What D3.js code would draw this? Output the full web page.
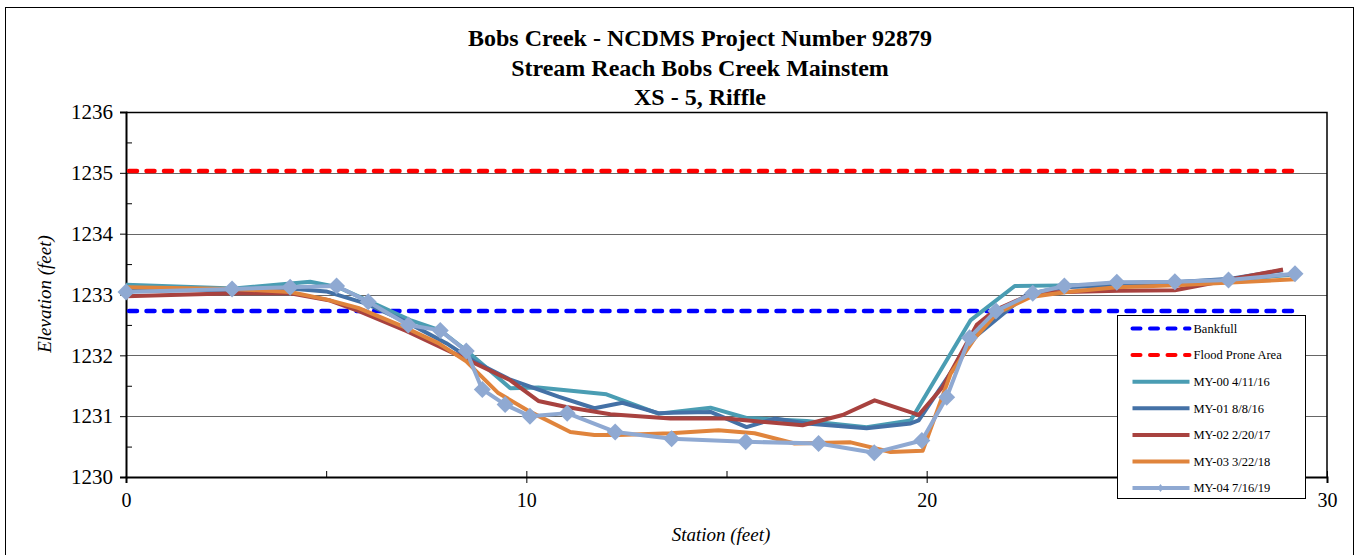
<!DOCTYPE html>
<html>
<head>
<meta charset="utf-8">
<script src="https://cdn.jsdelivr.net/npm/d3@7"></script>
<style>
  body { margin: 0; background: #fff; }
  svg text { font-family: "Liberation Serif", "Times New Roman", Times, "DejaVu Serif", serif; }
</style>
</head>
<body>
<div id="chart"></div>
<script>
// chart values
var titleLines = ["Bobs Creek - NCDMS Project Number 92879", "Stream Reach Bobs Creek Mainstem", "XS - 5, Riffle"];
var xTicks = [0, 10, 20, 30];
var yTicks = [1230, 1231, 1232, 1233, 1234, 1235, 1236];
var bankfull = 1232.73;
var floodProne = 1235.03;
var refLineEnd = 29.25;

var my00 = [[0,1233.16],[2.7,1233.10],[4.6,1233.21],[5.3,1233.12],[5.9,1232.94],[7.1,1232.58],[7.85,1232.41],[8.5,1232.08],[9.0,1231.8],[9.6,1231.46],[10.3,1231.47],[12.0,1231.36],[13.3,1231.04],[14.6,1231.14],[15.5,1230.97],[17.0,1230.92],[18.5,1230.82],[19.6,1230.93],[21.1,1232.58],[22.2,1233.14],[23.4,1233.15],[24.8,1233.17],[26.2,1233.2],[27.6,1233.24],[29.2,1233.33]];
var my01 = [[0,1233.06],[2.7,1233.08],[4.1,1233.1],[5.0,1233.05],[6.0,1232.85],[7.0,1232.55],[8.0,1232.2],[8.7,1231.9],[9.6,1231.6],[10.8,1231.32],[11.7,1231.13],[12.4,1231.22],[13.3,1231.05],[14.6,1231.07],[15.5,1230.82],[16.2,1230.96],[17.0,1230.88],[18.5,1230.8],[19.6,1230.88],[19.8,1230.93],[21.2,1232.3],[22.5,1233.0],[23.4,1233.12],[24.8,1233.15],[26.2,1233.2],[27.6,1233.26],[28.9,1233.4]];
var my02 = [[0,1232.97],[2.7,1233.02],[4.1,1233.02],[5.1,1232.9],[5.85,1232.72],[7.0,1232.4],[8.3,1232.0],[9.6,1231.59],[10.3,1231.25],[11.0,1231.15],[12.1,1231.03],[13.6,1230.96],[15.0,1230.96],[16.9,1230.85],[17.9,1231.02],[18.7,1231.26],[19.8,1231.02],[20.4,1231.48],[21.25,1232.5],[21.7,1232.74],[22.7,1233.03],[24.8,1233.06],[26.2,1233.07],[28.9,1233.41]];
var my03 = [[0,1233.12],[2.7,1233.09],[4.1,1233.04],[5.0,1232.92],[5.8,1232.78],[7.0,1232.45],[7.8,1232.2],[8.5,1231.9],[9.3,1231.38],[10.1,1231.07],[11.1,1230.74],[11.7,1230.69],[12.3,1230.69],[13.6,1230.72],[14.8,1230.77],[15.7,1230.72],[16.7,1230.55],[18.1,1230.57],[19.1,1230.41],[19.9,1230.43],[20.6,1231.7],[21.2,1232.28],[21.75,1232.69],[22.6,1232.96],[23.5,1233.04],[24.75,1233.12],[26.2,1233.15],[29.2,1233.25]];
var my04 = [[0,1233.04],[2.65,1233.09],[4.1,1233.12],[5.26,1233.14],[6.05,1232.88],[7.05,1232.5],[7.85,1232.41],[8.5,1232.07],[8.9,1231.44],[9.47,1231.19],[10.09,1231.0],[11.02,1231.05],[12.22,1230.74],[13.63,1230.63],[15.48,1230.58],[17.3,1230.55],[18.69,1230.4],[19.88,1230.6],[20.5,1231.31],[21.07,1232.29],[21.73,1232.73],[22.65,1233.02],[23.44,1233.14],[24.75,1233.2],[26.2,1233.21],[27.54,1233.24],[29.2,1233.34]];

var seriesNames = ["MY-00 4/11/16", "MY-01 8/8/16", "MY-02 2/20/17", "MY-03 3/22/18", "MY-04 7/16/19"];
var seriesData = [my00, my01, my02, my03, my04];
var seriesColors = ["#4A9DB3", "#4471A6", "#A8423F", "#E0843C", "#8FA9D2"];

var svgWidth = 1359;
var svgHeight = 555;
var margin = { top: 112, right: 32, bottom: 78, left: 126 };
var chartWidth = 1327 - margin.left;
var chartHeight = 477 - margin.top;
var serif = "Liberation Serif, Times New Roman, DejaVu Serif, serif";

var svg = d3.select("#chart")
  .append("svg")
  .attr("width", svgWidth)
  .attr("height", svgHeight)
  .attr("font-family", serif);

// outer frame
svg.append("rect")
  .attr("x", 5.5).attr("y", 7.5)
  .attr("width", 1348).attr("height", 560)
  .attr("fill", "none").attr("stroke", "#000").attr("stroke-width", 1);

// titles
svg.selectAll(".title")
  .data(titleLines)
  .enter()
  .append("text")
  .attr("x", 700)
  .attr("y", (d, i) => 46 + i * 29.5)
  .attr("text-anchor", "middle")
  .attr("font-size", "24px")
  .attr("font-weight", "bold")
  .text(d => d);

var chartGroup = svg.append("g")
  .attr("transform", `translate(${margin.left}, ${margin.top})`);

var xScale = d3.scaleLinear().domain([0, 30]).range([0, chartWidth]);
var yScale = d3.scaleLinear().domain([1230, 1236]).range([chartHeight, 0]);

// gridlines
chartGroup.selectAll(".grid")
  .data(yTicks.slice(1, -1))
  .enter()
  .append("line")
  .attr("x1", 0).attr("x2", chartWidth)
  .attr("y1", d => Math.round(yScale(d)) + 0.5)
  .attr("y2", d => Math.round(yScale(d)) + 0.5)
  .attr("stroke", "#666").attr("stroke-width", 1.2);

// plot border top/right
chartGroup.append("path")
  .attr("d", `M0,0.5H${chartWidth}V${chartHeight}`)
  .attr("fill", "none").attr("stroke", "#000").attr("stroke-width", 1.5);

// minor ticks (inside)
var leftMinor = d3.axisLeft(yScale).tickValues(d3.range(1230.5, 1236, 1)).tickSize(-6).tickFormat("");
chartGroup.append("g").call(leftMinor).call(g => g.select(".domain").remove())
  .selectAll("line").attr("stroke", "#000");
var bottomMinor = d3.axisBottom(xScale).tickValues([5, 15, 25]).tickSize(-6).tickFormat("");
chartGroup.append("g").attr("transform", `translate(0, ${chartHeight})`)
  .call(bottomMinor).call(g => g.select(".domain").remove())
  .selectAll("line").attr("stroke", "#000");

// main axes
var leftAxis = d3.axisLeft(yScale).tickValues(yTicks).tickSize(6).tickPadding(7).tickFormat(d3.format("d"));
var yAxisG = chartGroup.append("g").call(leftAxis).attr("font-family", serif).attr("font-size", 21);
yAxisG.select(".domain").attr("stroke-width", 2);

var bottomAxis = d3.axisBottom(xScale).tickValues(xTicks).tickSize(6).tickPadding(10);
var xAxisG = chartGroup.append("g").attr("transform", `translate(0, ${chartHeight})`).call(bottomAxis)
  .attr("font-family", serif).attr("font-size", 20);
xAxisG.select(".domain").attr("stroke-width", 2);
xAxisG.selectAll(".tick line").attr("y1", -6);

// reference lines
var refLines = [
  { name: "Bankfull", value: bankfull, color: "#0000FF" },
  { name: "Flood Prone Area", value: floodProne, color: "#FF0000" }
];
chartGroup.selectAll(".ref")
  .data(refLines)
  .enter()
  .append("line")
  .attr("x1", xScale(0) + 3).attr("x2", xScale(refLineEnd))
  .attr("y1", d => yScale(d.value)).attr("y2", d => yScale(d.value))
  .attr("stroke", d => d.color)
  .attr("stroke-width", 4.5)
  .attr("stroke-linecap", "round")
  .attr("stroke-dasharray", "8,9.5");

// survey lines
var line = d3.line().x(d => xScale(d[0])).y(d => yScale(d[1]));
chartGroup.selectAll(".series")
  .data(seriesData)
  .enter()
  .append("path")
  .attr("d", line)
  .attr("fill", "none")
  .attr("stroke", (d, i) => seriesColors[i])
  .attr("stroke-width", 4)
  .attr("stroke-linejoin", "round");

// MY-04 diamonds
var diamond = "M0,-8.5L8.5,0L0,8.5L-8.5,0Z";
chartGroup.selectAll(".marker")
  .data(my04)
  .enter()
  .append("path")
  .attr("d", diamond)
  .attr("transform", d => `translate(${xScale(d[0])}, ${yScale(d[1])})`)
  .attr("fill", seriesColors[4]);

// axis titles
svg.append("text")
  .attr("transform", "translate(51, 294) rotate(-90)")
  .attr("text-anchor", "middle")
  .attr("font-size", "19px")
  .attr("font-style", "italic")
  .text("Elevation (feet)");
svg.append("text")
  .attr("x", 721).attr("y", 541)
  .attr("text-anchor", "middle")
  .attr("font-size", "19px")
  .attr("font-style", "italic")
  .text("Station (feet)");

// legend
var legendItems = refLines.map(d => ({ name: d.name, color: d.color, dashed: true }))
  .concat(seriesNames.map((n, i) => ({ name: n, color: seriesColors[i], dashed: false })));
var legend = svg.append("g").attr("transform", "translate(1117.5, 315.5)");
legend.append("rect")
  .attr("width", 188).attr("height", 183)
  .attr("fill", "#fff").attr("stroke", "#000").attr("stroke-width", 1);
var entry = legend.selectAll(".entry")
  .data(legendItems)
  .enter()
  .append("g")
  .attr("transform", (d, i) => `translate(0, ${13 + i * 26.6})`);
entry.append("line")
  .attr("x1", 15).attr("x2", 72)
  .attr("stroke", d => d.color)
  .attr("stroke-width", 4)
  .attr("stroke-linecap", d => d.dashed ? "round" : "butt")
  .attr("stroke-dasharray", d => d.dashed ? "8,9.5" : null);
entry.filter((d, i) => i === legendItems.length - 1)
  .append("path")
  .attr("d", "M0,-4L3,0L0,4L-3,0Z")
  .attr("transform", "translate(43, 0)")
  .attr("fill", seriesColors[4]);
entry.append("text")
  .attr("x", 76).attr("dy", "0.35em")
  .attr("font-size", "12.5px")
  .text(d => d.name);
</script>
</body>
</html>
